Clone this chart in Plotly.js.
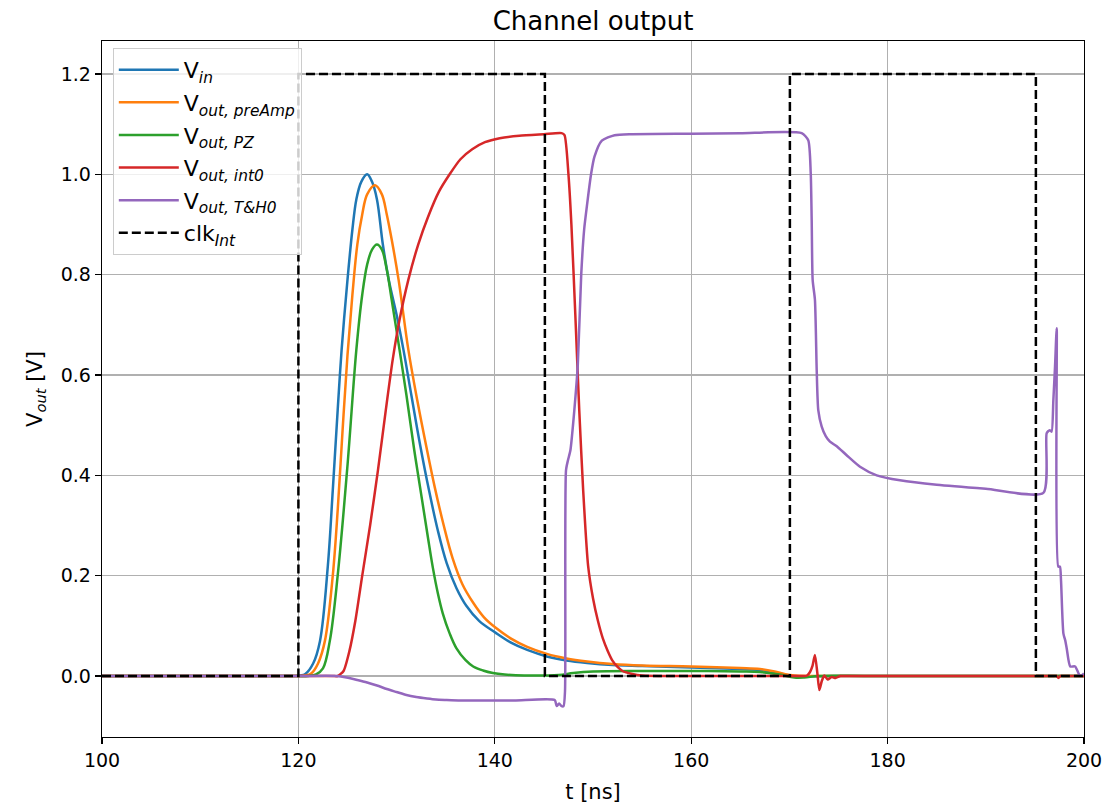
<!DOCTYPE html>
<html>
<head>
<meta charset="utf-8">
<script src="https://cdn.plot.ly/plotly-3.0.1.min.js"></script>
<style>html,body{margin:0;padding:0;background:#fff;}#chart{width:1119px;height:807px;}</style>
</head>
<body>
<div id="chart"></div>
<script>
// ---- data ----
const tVin = [100, 110, 118, 119.5, 120.2, 120.7, 121.5, 122.2, 123, 123.5, 124, 124.4, 125, 125.5, 125.9, 126.4, 127, 127.5, 128, 128.6, 129.2, 130, 130.7, 131.5, 132.4, 133.3, 134.2, 135.1, 136.1, 137.1, 138.4, 140.1, 141.7, 143.3, 145.3, 147.3, 149.4, 152, 155, 160, 165, 167, 168.5, 169.5, 170.5, 175, 185, 200];
const vVin = [0, 0, 0, 0, 0.001, 0.004, 0.025, 0.07, 0.22, 0.37, 0.53, 0.65, 0.79, 0.89, 0.95, 0.985, 1.0, 0.985, 0.95, 0.86, 0.79, 0.72, 0.65, 0.56, 0.46, 0.37, 0.29, 0.225, 0.175, 0.14, 0.11, 0.086, 0.066, 0.052, 0.039, 0.031, 0.026, 0.022, 0.02, 0.017, 0.014, 0.012, 0.007, 0.003, 0, 0, 0, 0];

const tPre = [100, 110, 118, 120, 120.7, 121.3, 122, 122.7, 123.5, 124, 124.5, 125, 125.5, 126, 126.5, 127, 127.8, 128.5, 129, 129.5, 130.2, 131.2, 132.1, 133, 133.9, 134.8, 135.7, 136.7, 137.8, 138.9, 140.1, 141.7, 143.3, 145.3, 147.3, 149.4, 152, 155, 160, 165, 167, 168.5, 169.5, 170.5, 175, 185, 200];
const vPre = [0, 0, 0, 0, 0.001, 0.005, 0.025, 0.07, 0.2, 0.33, 0.49, 0.64, 0.76, 0.86, 0.92, 0.96, 0.978, 0.96, 0.92, 0.87, 0.79, 0.65, 0.55, 0.46, 0.375, 0.3, 0.235, 0.183, 0.146, 0.117, 0.096, 0.074, 0.058, 0.044, 0.035, 0.029, 0.024, 0.021, 0.019, 0.016, 0.014, 0.009, 0.004, 0.001, 0, 0, 0];

const tPZ = [100, 110, 119, 121, 121.8, 122.5, 123.2, 124, 125, 125.9, 126.5, 127, 127.5, 128, 128.5, 129, 129.5, 130.3, 131, 131.8, 132.6, 133.2, 133.7, 134.2, 134.7, 135.4, 136.1, 137, 137.8, 138.8, 139.8, 141, 143, 146.5, 148, 150, 155, 160, 165, 167, 169, 170.5, 171.5, 173, 178, 188, 200];
const vPZ = [0, 0, 0, 0, 0.003, 0.015, 0.07, 0.2, 0.42, 0.65, 0.76, 0.82, 0.85, 0.86, 0.85, 0.81, 0.75, 0.65, 0.56, 0.45, 0.35, 0.275, 0.215, 0.165, 0.125, 0.085, 0.055, 0.032, 0.019, 0.011, 0.006, 0.003, 0.001, 0.002, 0.006, 0.009, 0.01, 0.01, 0.009, 0.008, 0.003, -0.003, -0.003, 0, 0, 0, 0];

const tInt = [100, 110, 120, 123.5, 124, 124.6, 125.2, 125.8, 126.5, 127.3, 128.1, 128.9, 129.6, 130.3, 131.2, 132.2, 133.2, 134.3, 135.4, 136.5, 137.7, 139, 140.5, 142.5, 145, 146.8, 147.1, 147.5, 147.8, 148.2, 148.6, 149, 149.5, 150, 150.5, 151, 151.5, 152, 152.5, 153, 154, 155, 158, 162, 166, 170, 171.5, 171.8, 172.1, 172.35, 172.6, 172.85, 173.05, 173.3, 173.55, 173.9, 174.3, 174.7, 175.2, 176, 180, 185, 190, 195, 196.8, 197.2, 197.4, 197.6, 198, 200];
const vInt = [0, 0, 0, 0, 0, 0.01, 0.05, 0.11, 0.2, 0.3, 0.41, 0.53, 0.63, 0.71, 0.79, 0.86, 0.915, 0.965, 1.0, 1.03, 1.05, 1.064, 1.072, 1.077, 1.08, 1.082, 1.078, 1.0, 0.9, 0.72, 0.53, 0.37, 0.22, 0.155, 0.11, 0.075, 0.05, 0.03, 0.018, 0.01, 0.004, 0.001, 0, 0, 0, 0, 0, 0.001, 0.008, 0.02, 0.042, 0.005, -0.028, -0.01, 0.001, -0.007, -0.002, -0.004, 0, 0, 0, 0, 0, 0, 0, 0, -0.004, 0, 0, 0];

const tTH = [100, 110, 120, 123.9, 124.9, 126, 127, 128, 129, 130, 131, 132, 133.1, 134, 135.1, 136.5, 138.5, 142, 146.1, 146.3, 146.55, 146.8, 147.0, 147.15, 147.25, 147.45, 147.7, 148.1, 148.45, 148.8, 149.1, 149.4, 149.8, 150.15, 150.9, 152.2, 154, 160, 165, 171.25, 171.92, 172.17, 172.27, 172.37, 172.6, 172.78, 172.94, 173.29, 173.7, 174.13, 174.82, 175.83, 177.19, 178.89, 181.26, 185, 190, 195.86, 196.2, 196.5, 196.7, 196.88, 197.05, 197.22, 197.38, 197.55, 197.66, 197.9, 198.1, 198.24, 198.6, 199.1, 199.6, 200];
const vTH = [0, 0, 0, 0, -0.003, -0.008, -0.013, -0.019, -0.026, -0.032, -0.038, -0.042, -0.045, -0.047, -0.048, -0.049, -0.049, -0.049, -0.048, -0.06, -0.055, -0.06, -0.06, -0.03, 0.41, 0.43, 0.45, 0.53, 0.62, 0.8, 0.89, 0.94, 1.0, 1.035, 1.067, 1.078, 1.08, 1.081, 1.082, 1.082, 1.068, 1.003, 0.909, 0.789, 0.75, 0.61, 0.53, 0.497, 0.478, 0.467, 0.458, 0.44, 0.417, 0.4, 0.39, 0.381, 0.373, 0.365, 0.484, 0.49, 0.487, 0.55, 0.617, 0.693, 0.218, 0.218, 0.19, 0.085, 0.07, 0.055, 0.019, 0.019, 0.0, 0.005];

const tClk = [100, 120, 120, 145.1, 145.1, 170.05, 170.05, 195.1, 195.1, 200];
const vClk = [0, 0, 1.2, 1.2, 0, 0, 1.2, 1.2, 0, 0];

const seriesNames = [
  'V<sub><i>in</i></sub>',
  'V<sub><i>out, preAmp</i></sub>',
  'V<sub><i>out, PZ</i></sub>',
  'V<sub><i>out, int0</i></sub>',
  'V<sub><i>out, T&amp;H0</i></sub>',
  'clk<sub><i>Int</i></sub>'
];
const seriesColors = ['#1f77b4', '#ff7f0e', '#2ca02c', '#d62728', '#9467bd', '#000000'];
const xTicks = [100, 120, 140, 160, 180, 200];
const yTicks = [0, 0.2, 0.4, 0.6, 0.8, 1.0, 1.2];

const xs = [tVin, tPre, tPZ, tInt, tTH, tClk];
const ys = [vVin, vPre, vPZ, vInt, vTH, vClk];
const smooth = [1.0, 1.0, 1.0, 0.6, 0.6, 0];

const traces = xs.map((x, i) => ({
  x: x, y: ys[i], type: 'scatter', mode: 'lines', name: seriesNames[i], legendgroup: 'g' + i,
  line: {color: seriesColors[i], width: 2.5, dash: i === 5 ? '9px,4px' : 'solid', shape: i === 5 ? 'linear' : 'spline', smoothing: smooth[i] || undefined}
}));

const fam = 'DejaVu Sans, sans-serif';
const tickFont = {family: fam, size: 19, color: '#000'};
const labelFont = {family: fam, size: 21, color: '#000'};
const layout = {
  width: 1119, height: 807,
  margin: {l: 102, r: 35, t: 41, b: 70},
  paper_bgcolor: '#fff', plot_bgcolor: '#fff',
  font: tickFont,
  title: {text: 'Channel output', font: {family: fam, size: 26, color: '#000'}, x: 0.53, xanchor: 'center', y: 0.974, yanchor: 'middle'},
  xaxis: {
    range: [100, 200], tickvals: xTicks, ticktext: xTicks.map(String), tickfont: tickFont,
    showgrid: true, gridcolor: '#b0b0b0', gridwidth: 1.3, zeroline: false,
    showline: true, linecolor: '#000', linewidth: 1.3, mirror: true,
    ticks: 'outside', ticklen: 6, tickwidth: 1.3, tickcolor: '#000',
    title: {text: 't [ns]', font: labelFont, standoff: 14}
  },
  yaxis: {
    range: [-0.1216, 1.2657], tickvals: yTicks, ticktext: yTicks.map(v => v.toFixed(1)), tickfont: tickFont,
    showgrid: true, gridcolor: '#b0b0b0', gridwidth: 1.3, zeroline: false,
    showline: true, linecolor: '#000', linewidth: 1.3, mirror: true,
    ticks: 'outside', ticklen: 6, tickwidth: 1.3, tickcolor: '#000',
    title: {text: 'V<sub><i>out</i></sub> [V]', font: labelFont, standoff: 12}
  },
  legend: {
    x: 0.011, y: 0.99, xanchor: 'left', yanchor: 'top',
    bgcolor: 'rgba(255,255,255,0.8)', bordercolor: '#cccccc', borderwidth: 1,
    font: {family: fam, size: 22, color: '#000'},
    itemwidth: 60, tracegroupgap: 1
  },
  showlegend: true
};

Plotly.newPlot('chart', traces, layout, {displayModeBar: false, staticPlot: true});
</script>
</body>
</html>
